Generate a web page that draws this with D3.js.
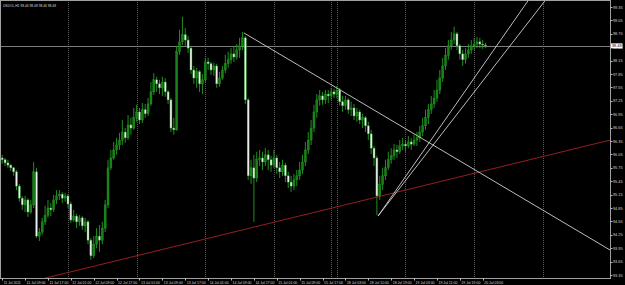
<!DOCTYPE html>
<html>
<head>
<meta charset="utf-8">
<script src="https://cdn.jsdelivr.net/npm/d3@7"></script>
<style>
  html, body { margin: 0; padding: 0; background: #000; }
  svg { display: block; }
  text { font-family: "Liberation Sans", Arial, sans-serif; }
</style>
</head>
<body>
<div id="chart"></div>
<script>
// USDOL H1, 11 Jul 2011 01:00 onwards, one bar per hour
var firstOpen = 95.97;
var closes = [
  95.93, 95.86, 95.81, 95.75, 95.66, 95.34, 95.07, 94.92, 95.03, 94.76,
  94.92, 95.66, 94.22, 94.31, 94.54, 94.69, 94.85, 94.81, 95.03, 95.12,
  95.16, 95.07, 95.12, 94.94, 94.58, 94.67, 94.54, 94.63, 94.45, 94.54,
  94.13, 93.78, 94.04, 94.22, 94.13, 94.40, 94.92, 95.75, 95.97, 96.15,
  96.26, 96.37, 96.55, 96.42, 96.71, 96.64, 96.87, 97.00, 96.82, 97.05,
  96.96, 97.18, 97.45, 97.72, 97.63, 97.54, 97.67, 97.45, 97.27, 96.64,
  96.60, 98.35, 98.57, 98.73, 98.61, 98.43, 97.94, 97.76, 97.90, 97.63,
  97.72, 98.12, 98.08, 97.94, 98.03, 97.63, 97.76, 97.94, 98.08, 98.17,
  98.30, 98.23, 98.39, 98.48, 98.66, 97.27, 95.57, 95.75, 95.52, 95.93,
  95.97, 95.88, 96.04, 95.93, 95.81, 95.97, 95.75, 95.66, 95.81, 95.57,
  95.43, 95.34, 95.48, 95.57, 95.70, 95.88, 96.15, 96.37, 96.64, 97.00,
  97.27, 97.36, 97.27, 97.40, 97.36, 97.45, 97.40, 97.49, 97.23, 97.14,
  97.27, 97.05, 97.09, 96.91, 97.00, 96.82, 96.87, 96.69, 96.51, 96.19,
  95.97, 95.12, 95.37, 95.57, 95.75, 95.93, 96.02, 96.15, 96.11, 96.24,
  96.28, 96.24, 96.33, 96.28, 96.37, 96.42, 96.55, 96.69, 96.87, 97.05,
  97.18, 97.31, 97.49, 97.76, 98.03, 98.26, 98.48, 98.61, 98.75, 98.48,
  98.30, 98.17, 98.30, 98.39, 98.48, 98.52, 98.57, 98.52, 98.50, 98.48
];
var highs = [
  96.04, 95.97, 95.93, 95.84, 95.77, 95.70, 95.39, 95.12, 95.12, 95.07,
  95.03, 95.88, 95.75, 94.40, 94.63, 94.90, 95.03, 94.96, 95.14, 95.25,
  95.25, 95.21, 95.19, 95.16, 94.99, 94.81, 94.72, 94.69, 94.67, 94.63,
  94.58, 94.18, 94.22, 94.40, 94.47, 94.54, 95.03, 95.93, 96.15, 96.33,
  96.42, 96.53, 96.82, 96.64, 96.93, 96.87, 97.09, 97.16, 97.09, 97.20,
  97.18, 97.31, 97.67, 97.87, 97.79, 97.72, 97.79, 97.76, 97.49, 97.31,
  96.87, 98.48, 98.84, 99.13, 98.88, 98.70, 98.48, 98.03, 97.99, 97.94,
  97.85, 98.21, 98.21, 98.12, 98.10, 98.08, 97.90, 98.03, 98.28, 98.35,
  98.43, 98.48, 98.52, 98.66, 98.79, 98.70, 97.31, 95.93, 96.04, 96.11,
  96.15, 96.11, 96.19, 96.15, 96.02, 96.15, 96.04, 95.88, 95.93, 95.86,
  95.66, 95.57, 95.61, 95.70, 95.88, 96.04, 96.33, 96.55, 96.82, 97.16,
  97.40, 97.49, 97.45, 97.49, 97.49, 97.54, 97.52, 97.58, 97.54, 97.36,
  97.36, 97.31, 97.23, 97.18, 97.09, 97.05, 96.96, 96.91, 96.78, 96.60,
  96.24, 96.02, 95.57, 95.75, 95.93, 96.11, 96.19, 96.28, 96.26, 96.37,
  96.42, 96.37, 96.46, 96.42, 96.49, 96.55, 96.69, 96.87, 97.05, 97.18,
  97.36, 97.49, 97.72, 97.94, 98.21, 98.43, 98.61, 98.79, 98.91, 98.79,
  98.52, 98.39, 98.43, 98.52, 98.61, 98.66, 98.68, 98.66, 98.61, 98.55
];
var lows = [
  95.84, 95.79, 95.75, 95.68, 95.57, 95.25, 94.99, 94.81, 94.76, 94.65,
  94.72, 94.85, 94.18, 94.11, 94.25, 94.47, 94.63, 94.67, 94.76, 94.94,
  95.03, 94.96, 94.99, 94.85, 94.52, 94.54, 94.40, 94.45, 94.36, 94.31,
  94.04, 93.69, 93.73, 93.95, 93.87, 94.04, 94.31, 94.85, 95.70, 95.93,
  96.04, 96.15, 96.26, 96.31, 96.37, 96.49, 96.60, 96.78, 96.73, 96.75,
  96.87, 96.91, 97.14, 97.38, 97.45, 97.40, 97.36, 97.34, 97.18, 96.55,
  96.49, 96.58, 98.28, 98.50, 98.46, 98.32, 97.85, 97.63, 97.54, 97.45,
  97.40, 97.67, 97.94, 97.83, 97.81, 97.54, 97.56, 97.72, 97.87, 97.99,
  98.08, 98.12, 98.17, 98.21, 98.39, 97.18, 95.48, 95.39, 94.54, 95.43,
  95.79, 95.70, 95.79, 95.70, 95.66, 95.75, 95.61, 95.52, 95.57, 95.43,
  95.30, 95.21, 95.25, 95.34, 95.48, 95.61, 95.79, 96.06, 96.26, 96.55,
  96.87, 97.14, 97.16, 97.18, 97.20, 97.27, 97.31, 97.31, 97.14, 97.00,
  97.05, 96.96, 96.91, 96.82, 96.78, 96.73, 96.64, 96.55, 96.37, 96.06,
  95.79, 94.69, 95.03, 95.25, 95.48, 95.70, 95.84, 95.93, 95.97, 96.06,
  96.15, 96.11, 96.19, 96.15, 96.24, 96.24, 96.33, 96.46, 96.60, 96.73,
  96.96, 97.09, 97.23, 97.40, 97.67, 97.94, 98.17, 98.39, 98.52, 98.39,
  98.17, 98.03, 98.08, 98.21, 98.30, 98.39, 98.43, 98.43, 98.41, 98.43
];

// time axis: label every 8 bars
var timeLabelBars = [0, 8, 16, 24, 32, 40, 48, 56, 64, 72, 80, 88, 96, 104, 112, 120, 128, 136, 144, 152, 160, 168];
var timeLabels = ['11 Jul 2011', '11 Jul 09:00', '11 Jul 17:00', '12 Jul 01:00', '12 Jul 09:00', '12 Jul 17:00',
  '13 Jul 01:00', '13 Jul 09:00', '13 Jul 17:00', '14 Jul 01:00', '14 Jul 09:00', '14 Jul 17:00',
  '15 Jul 01:00', '15 Jul 09:00', '15 Jul 17:00', '18 Jul 03:00', '18 Jul 11:00', '18 Jul 19:00',
  '19 Jul 03:00', '19 Jul 11:00', '19 Jul 19:00', '20 Jul 03:00'];
// day separators (bar index of first bar of each day)
var dayBars = [23, 47, 71, 95, 115, 117, 141, 165, 189];

var priceTicks = [99.35, 99.05, 98.75, 98.45, 98.15, 97.85, 97.55, 97.25, 96.95, 96.65, 96.35,
  96.05, 95.75, 95.45, 95.15, 94.85, 94.55, 94.25, 93.95, 93.65, 93.35];
var bid = 98.48;

// drawn objects: [bar, price] pairs
var trendDown = [[84.5, 98.77], [212.5, 93.91]];
var trendRed = [[15, 93.28], [212.5, 96.37]];
var trendUpA = [[131.4, 94.67], [184.5, 99.55]];
var trendUpB = [[131.4, 94.67], [190.5, 99.55]];

var W = 625, H = 285;
var plotR = 610, plotB = 278;

var svg = d3.select('#chart').append('svg')
    .attr('width', W).attr('height', H)
    .style('background', '#000');

var x = d3.scaleLinear().domain([0, 212.5]).range([2.2, plotR]);
var y = d3.scaleLinear().domain([93.35, 99.35]).range([275, 7]);

svg.append('clipPath').attr('id', 'plot')
  .append('rect').attr('x', 0).attr('y', 0).attr('width', plotR).attr('height', plotB);

var plot = svg.append('g').attr('clip-path', 'url(#plot)');

// day separators
plot.selectAll('.day')
    .data(dayBars)
  .enter().append('line')
    .attr('x1', function(d) { return Math.round(x(d)) + 0.5; })
    .attr('x2', function(d) { return Math.round(x(d)) + 0.5; })
    .attr('y1', 0).attr('y2', plotB)
    .attr('stroke', '#5e5e5e')
    .attr('stroke-dasharray', '1,1');

// bid line
plot.append('line')
    .attr('x1', 0).attr('x2', plotR)
    .attr('y1', Math.round(y(bid)) + 0.5).attr('y2', Math.round(y(bid)) + 0.5)
    .attr('stroke', '#7c7c7c');

var bars = closes.map(function(c, i) {
  return { i: i, o: i === 0 ? firstOpen : closes[i - 1], h: highs[i], l: lows[i], c: c };
});

// wicks
plot.selectAll('.wick')
    .data(bars)
  .enter().append('line')
    .attr('x1', function(d) { return x(d.i); })
    .attr('x2', function(d) { return x(d.i); })
    .attr('y1', function(d) { return y(d.h); })
    .attr('y2', function(d) { return y(d.l); })
    .attr('stroke', '#22a022')
    .attr('stroke-width', 0.9);

// bodies
plot.selectAll('.body')
    .data(bars)
  .enter().append('rect')
    .attr('x', function(d) { return x(d.i) - 1; })
    .attr('width', 2)
    .attr('y', function(d) { return y(Math.max(d.o, d.c)); })
    .attr('height', function(d) { return Math.max(0.8, Math.abs(y(d.o) - y(d.c))); })
    .attr('fill', function(d) { return d.c >= d.o ? '#1a7e1a' : '#eeeeee'; })
    .attr('stroke', '#22a022')
    .attr('stroke-width', 0.4);

// trend lines
var lineGen = d3.line()
    .x(function(d) { return x(d[0]); })
    .y(function(d) { return y(d[1]); });

[[trendRed, '#a52222'], [trendDown, '#d0d0d0'], [trendUpA, '#d0d0d0'], [trendUpB, '#d0d0d0']].forEach(function(t) {
  plot.append('path')
      .datum(t[0])
      .attr('d', lineGen)
      .attr('fill', 'none')
      .attr('stroke', t[1])
      .attr('stroke-width', 0.9);
});

// frame
svg.append('rect')
    .attr('x', 0.5).attr('y', 0.5)
    .attr('width', plotR).attr('height', plotB)
    .attr('fill', 'none')
    .attr('stroke', '#a0a0a0');

// price axis
var pa = svg.append('g');
pa.selectAll('.pt')
    .data(priceTicks)
  .enter().append('line')
    .attr('x1', plotR + 0.5).attr('x2', plotR + 2.5)
    .attr('y1', function(d) { return Math.round(y(d)) + 0.5; })
    .attr('y2', function(d) { return Math.round(y(d)) + 0.5; })
    .attr('stroke', '#bbbbbb');
pa.selectAll('.pl')
    .data(priceTicks)
  .enter().append('text')
    .attr('x', plotR + 3)
    .attr('y', function(d) { return y(d) + 1.6; })
    .attr('fill', '#d8d8d8')
    .attr('font-size', '4.2px')
    .attr('textLength', 9.5)
    .attr('lengthAdjust', 'spacingAndGlyphs')
    .text(function(d) { return d.toFixed(2); });

// current price box
pa.append('rect')
    .attr('x', plotR + 1).attr('y', y(bid) - 2.5)
    .attr('width', 11.5).attr('height', 5)
    .attr('fill', '#ffffff');
pa.append('text')
    .attr('x', plotR + 2).attr('y', y(bid) + 1.6)
    .attr('fill', '#000')
    .attr('font-size', '4.2px')
    .attr('textLength', 9.5)
    .attr('lengthAdjust', 'spacingAndGlyphs')
    .text(bid.toFixed(2));

// time axis
var ta = svg.append('g');
ta.selectAll('.tt')
    .data(timeLabelBars)
  .enter().append('line')
    .attr('x1', function(d) { return Math.round(x(d)) + 0.5; })
    .attr('x2', function(d) { return Math.round(x(d)) + 0.5; })
    .attr('y1', plotB).attr('y2', plotB + 2.5)
    .attr('stroke', '#bbbbbb');
ta.selectAll('.tl')
    .data(timeLabelBars)
  .enter().append('text')
    .attr('x', function(d) { return x(d) + 1.5; })
    .attr('y', plotB + 5.5)
    .attr('fill', '#d8d8d8')
    .attr('font-size', '4px')
    .attr('textLength', function(d, i) { return i === 0 ? 17 : 19; })
    .attr('lengthAdjust', 'spacingAndGlyphs')
    .text(function(d, i) { return timeLabels[i]; });

// header
svg.append('text')
    .attr('x', 3).attr('y', 7)
    .attr('fill', '#d8d8d8')
    .attr('font-size', '4.2px')
    .attr('textLength', 53)
    .attr('lengthAdjust', 'spacingAndGlyphs')
    .text('USDOL,H1  98.46 98.48 98.46 98.48');
</script>
</body>
</html>
